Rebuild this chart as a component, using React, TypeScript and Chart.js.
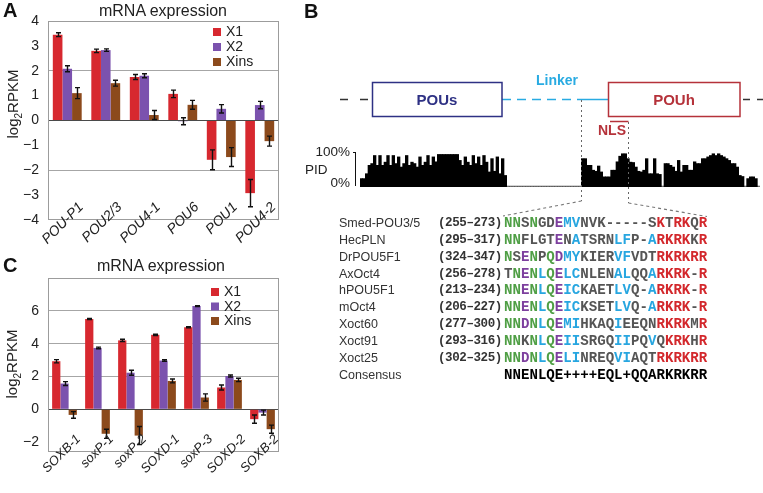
import React, { useEffect, useRef } from 'react';
import { Chart, registerables } from 'chart.js';

Chart.register(...registerables);

const SANS = '"Liberation Sans", Arial, Helvetica, sans-serif';
const MONO = '"Liberation Mono", "Courier New", monospace';

// ---------- Panel A / C shared series ----------
const seriesNames = ['X1', 'X2', 'Xins'];
const seriesColors = ['#d7282f', '#7b52ae', '#8c4a1c'];

// ---------- Panel A: POU genes ----------
const pouGenes = ['POU-P1', 'POU2/3', 'POU4-1', 'POU6', 'POU1', 'POU4-2'];
const pouX1 = [3.45, 2.8, 1.75, 1.07, -1.58, -2.92];
const pouX2 = [2.08, 2.83, 1.8, -0.03, 0.47, 0.62];
const pouXins = [1.1, 1.5, 0.22, 0.63, -1.47, -0.83];
const pouX1Err = [0.08, 0.07, 0.1, 0.15, 0.4, 0.55];
const pouX2Err = [0.12, 0.05, 0.08, 0.14, 0.17, 0.15];
const pouXinsErr = [0.22, 0.12, 0.18, 0.18, 0.38, 0.2];
const pouTicks = [-4, -3, -2, -1, 0, 1, 2, 3, 4];
const pouGrid = [-2, 2];

// ---------- Panel C: SOX genes ----------
const soxGenes = ['SOXB-1', 'soxP-1', 'soxP-2', 'SOXD-1', 'soxP-3', 'SOXD-2', 'SOXB-2'];
const soxX1 = [2.93, 5.5, 4.2, 4.54, 5.0, 1.33, -0.6];
const soxX2 = [1.57, 3.74, 2.23, 2.97, 6.29, 2.03, -0.2];
const soxXins = [-0.34, -1.49, -1.6, 1.73, 0.72, 1.79, -1.21];
const soxX1Err = [0.1, 0.03, 0.07, 0.04, 0.04, 0.15, 0.25];
const soxX2Err = [0.12, 0.05, 0.15, 0.05, 0.03, 0.06, 0.15];
const soxXinsErr = [0.2, 0.28, 0.55, 0.12, 0.22, 0.1, 0.25];
const soxTicks = [-2, 0, 2, 4, 6];
const soxGrid = [2, 4, 6];

// ---------- Panel B: PID profile (percent identity per alignment bin) ----------
const pidValues = [
  24, 24, 38, 62, 67, 90, 62, 90, 62, 71, 90, 62, 90, 67, 86, 57, 67, 90, 62, 71,
  67, 57, 86, 62, 71, 90, 62, 86, 72, 93, 93, 93, 93, 93, 93, 93, 93, 76, 62, 86,
  71, 62, 90, 67, 86, 62, 90, 71, 43, 81, 45, 86, 38, 81, 33, 0, 0, 0, 0, 0,
  0, 0, 0, 0, 0, 0, 0, 0, 0, 0, 0, 0, 0, 0, 0, 0, 0, 0, 0, 0,
  0, 0, 0, 81, 81, 62, 62, 48, 45, 60, 43, 29, 29, 29, 48, 48, 72, 88, 95, 95,
  81, 71, 70, 57, 45, 43, 48, 81, 38, 38, 81, 38, 36, 0, 67, 67, 62, 57, 45, 76,
  43, 62, 62, 48, 48, 72, 67, 67, 81, 81, 86, 90, 95, 90, 95, 90, 86, 81, 76, 67,
  67, 57, 33, 30, 0, 24, 29, 29, 24, 0,
];

// ---------- Panel B: alignment ----------
const seqNames = ['Smed-POU3/5', 'HecPLN', 'DrPOU5F1', 'AxOct4', 'hPOU5F1', 'mOct4', 'Xoct60', 'Xoct91', 'Xoct25', 'Consensus'];
const seqRanges = ['(255–273)', '(295–317)', '(324–347)', '(256–278)', '(213–234)', '(206–227)', '(277–300)', '(293–316)', '(302–325)', ''];
const seqResidues = [
  'NNSNGDEMVNVK-----SKTRKQR',
  'NNFLGTENATSRNLFP-ARKRKKR',
  'NSENPQDMYKIERVFVDTRKRKRR',
  'TNENLQELCNLENALQQARKRK-R',
  'NNENLQEICKAETLVQ-ARKRK-R',
  'NNENLQEICKSETLVQ-ARKRK-R',
  'NNDNLQEMIHKAQIEEQNRKRKMR',
  'NNKNLQEIISRGQIIPQVQKRKHR',
  'NNDNLQELINREQVIAQTRKRKRR',
  'NNENLQE++++EQL+QQARKRKRR',
];
const seqColorCodes = [
  'ggkgkkpbbkkkkkkkkkrkrrkr',
  'ggkkkkpkbkkkkbbkkbrrrrkr',
  'gkpgkgpbbkkkkbbkkkrrrrrr',
  'kgpgbgpbbkkkkbbkkbrrrrkr',
  'ggpgbgpbbkkkkbbkkbrrrrkr',
  'ggpgbgpbbkkkkbbkkbrrrrkr',
  'ggpgbgpbbkkkkbkkkkrrrrkr',
  'ggkgbgpbbkkkkbbkkbkrrrkr',
  'ggpgbgpbbkkkkbbkkkrrrrrr',
  'xxxxxxxxxxxxxxxxxxxxxxxx',
];
const residueColors: Record<string, string> = {
  g: '#4f9f45',
  p: '#7d3f9e',
  b: '#27a6e0',
  r: '#d3282c',
  k: '#555555',
  x: '#000000',
};

// ---------- plugins ----------
const framePlugin = {
  id: 'frame',
  afterDatasetsDraw(chart: any) {
    const { ctx, chartArea: a } = chart;
    ctx.save();
    ctx.strokeStyle = '#9c9c9c';
    ctx.lineWidth = 1;
    ctx.strokeRect(Math.round(a.left) + 0.5, Math.round(a.top) + 0.5, Math.round(a.right - a.left) - 1, Math.round(a.bottom - a.top) - 1);
    ctx.restore();
  },
};

const errorBarPlugin = {
  id: 'errorBars',
  afterDatasetsDraw(chart: any) {
    const { ctx } = chart;
    const yScale = chart.scales.y;
    chart.data.datasets.forEach((ds: any, di: number) => {
      if (!ds.errors) return;
      const meta = chart.getDatasetMeta(di);
      meta.data.forEach((bar: any, i: number) => {
        const v = ds.data[i];
        const e = ds.errors[i];
        const x = Math.round(bar.x) + 0.5;
        const y1 = yScale.getPixelForValue(v + e);
        const y2 = yScale.getPixelForValue(v - e);
        ctx.save();
        ctx.strokeStyle = '#111';
        ctx.lineWidth = 1.4;
        ctx.beginPath();
        ctx.moveTo(x, y1);
        ctx.lineTo(x, y2);
        ctx.moveTo(x - 2.5, y1);
        ctx.lineTo(x + 2.5, y1);
        ctx.moveTo(x - 2.5, y2);
        ctx.lineTo(x + 2.5, y2);
        ctx.stroke();
        ctx.restore();
      });
    });
  },
};

const insideLegendPlugin = {
  id: 'insideLegend',
  afterDraw(chart: any, _args: any, opts: any) {
    if (!opts || !opts.show) return;
    const { ctx, chartArea: a } = chart;
    ctx.save();
    ctx.font = `${opts.fontSize}px ${SANS}`;
    ctx.textBaseline = 'middle';
    ctx.textAlign = 'left';
    chart.data.datasets.forEach((ds: any, i: number) => {
      const y = a.top + opts.top + i * opts.gap;
      const x = a.right - opts.right;
      ctx.fillStyle = ds.backgroundColor;
      ctx.fillRect(x, y - opts.box / 2, opts.box, opts.box);
      ctx.fillStyle = '#222';
      ctx.fillText(ds.label, x + opts.box + opts.textGap, y + 0.5);
    });
    ctx.restore();
  },
};

// Category labels, slanted 45°, placed from the category scale's tick positions.
const slantLabelPlugin = {
  id: 'slantLabels',
  afterDraw(chart: any, _args: any, opts: any) {
    if (!opts || !opts.show) return;
    const { ctx, chartArea: a } = chart;
    const xs = chart.scales.x;
    ctx.save();
    ctx.font = `italic ${opts.size}px ${SANS}`;
    ctx.fillStyle = '#222';
    ctx.textAlign = 'right';
    ctx.textBaseline = 'middle';
    (chart.data.labels as string[]).forEach((lab, i) => {
      const x = xs.getPixelForValue(i) + opts.dx;
      const y = a.bottom + opts.dy;
      ctx.save();
      ctx.translate(x, y);
      ctx.rotate(-Math.PI / 4);
      ctx.fillText(lab, 0, 0);
      ctx.restore();
    });
    ctx.restore();
  },
};

const baselinePlugin = {
  id: 'baseline',
  beforeDatasetsDraw(chart: any) {
    const { ctx, chartArea: a } = chart;
    ctx.save();
    ctx.strokeStyle = '#a8a8a8';
    ctx.lineWidth = 1.5;
    ctx.beginPath();
    ctx.moveTo(a.left, a.bottom - 0.75);
    ctx.lineTo(a.right, a.bottom - 0.75);
    ctx.stroke();
    ctx.restore();
  },
};

type ExprParams = {
  labels: string[];
  values: number[][];
  errors: number[][];
  min: number;
  max: number;
  ticks: number[];
  grid: number[];
  labelSize: number;
  padTop: number;
  padRight: number;
  xHeight: number;
  legend: any;
};

function expressionConfig(p: ExprParams): any {
  return {
    type: 'bar',
    data: {
      labels: p.labels,
      datasets: seriesNames.map((name, i) => ({
        label: name,
        data: p.values[i],
        errors: p.errors[i],
        backgroundColor: seriesColors[i],
        borderWidth: 0,
        barPercentage: 1,
        categoryPercentage: 0.75,
      })),
    },
    options: {
      responsive: false,
      animation: false,
      devicePixelRatio: 1,
      layout: { padding: { top: p.padTop, right: p.padRight, left: 0, bottom: 0 } },
      plugins: {
        legend: { display: false },
        tooltip: { enabled: false },
        insideLegend: p.legend,
        slantLabels: { show: true, size: p.labelSize, dx: 14, dy: -15 },
      },
      scales: {
        x: {
          grid: { display: false },
          border: { display: false },
          ticks: { display: false },
          afterFit: (s: any) => {
            s.height = p.xHeight;
          },
        },
        y: {
          min: p.min,
          max: p.max,
          afterFit: (s: any) => {
            s.width = 48;
          },
          afterBuildTicks: (s: any) => {
            s.ticks = p.ticks.map((v) => ({ value: v }));
          },
          grid: {
            drawTicks: false,
            lineWidth: 1,
            color: (c: any) =>
              c.tick && c.tick.value === 0 ? '#4a4a4a' : c.tick && p.grid.includes(c.tick.value) ? '#a6a6a6' : 'rgba(0,0,0,0)',
          },
          border: { display: false },
          ticks: {
            padding: 9,
            color: '#222',
            font: { family: SANS, size: 14 },
            callback: (v: any) => String(v).replace('-', '−'),
          },
        },
      },
    },
    plugins: [framePlugin, errorBarPlugin, insideLegendPlugin, slantLabelPlugin],
  };
}

function pidConfig(): any {
  return {
    type: 'bar',
    data: {
      labels: pidValues.map((_, i) => String(i + 1)),
      datasets: [
        {
          data: pidValues,
          backgroundColor: '#000',
          borderWidth: 0,
          barPercentage: 1,
          categoryPercentage: 1,
        },
      ],
    },
    options: {
      responsive: false,
      animation: false,
      devicePixelRatio: 1,
      layout: { padding: { left: 5, right: 3, top: 7, bottom: 3 } },
      plugins: { legend: { display: false }, tooltip: { enabled: false } },
      scales: {
        x: { display: false },
        y: { display: false, min: 0, max: 100 },
      },
    },
    plugins: [baselinePlugin],
  };
}

function ChartCanvas(props: { left: number; top: number; width: number; height: number; make: () => any }) {
  const ref = useRef<HTMLCanvasElement>(null);
  useEffect(() => {
    const chart = new Chart(ref.current as HTMLCanvasElement, props.make());
    return () => chart.destroy();
  }, []);
  return (
    <canvas
      ref={ref}
      width={props.width}
      height={props.height}
      style={{ position: 'absolute', left: props.left, top: props.top, width: props.width, height: props.height }}
    />
  );
}

function Abs(props: { x: number; y: number; style?: React.CSSProperties; children: React.ReactNode }) {
  return (
    <div style={{ position: 'absolute', left: props.x, top: props.y, whiteSpace: 'nowrap', ...props.style }}>{props.children}</div>
  );
}

function YTitle(props: { cx: number; cy: number }) {
  return (
    <div
      style={{
        position: 'absolute',
        left: props.cx - 60,
        top: props.cy - 10,
        width: 120,
        height: 20,
        lineHeight: '20px',
        textAlign: 'center',
        transform: 'rotate(-90deg)',
        fontSize: 15,
        color: '#222',
        whiteSpace: 'nowrap',
      }}
    >
      log<span style={{ fontSize: 10, position: 'relative', top: 4 }}>2</span>RPKM
    </div>
  );
}

export default function App() {
  const rowTop = 215;
  const rowH = 16.85;
  return (
    <div
      style={{
        position: 'absolute',
        left: 0,
        top: 0,
        width: 763,
        height: 493,
        background: '#fff',
        overflow: 'hidden',
        fontFamily: SANS,
      }}
    >
      {/* Panel A */}
      <ChartCanvas
        left={0}
        top={0}
        width={290}
        height={262}
        make={() =>
          expressionConfig({
            labels: pouGenes,
            values: [pouX1, pouX2, pouXins],
            errors: [pouX1Err, pouX2Err, pouXinsErr],
            min: -4,
            max: 4,
            ticks: pouTicks,
            grid: pouGrid,
            labelSize: 14,
            padTop: 21,
            padRight: 11,
            xHeight: 42,
            legend: { show: true, right: 66, top: 11, gap: 15, box: 8, textGap: 5, fontSize: 14 },
          })
        }
      />
      {/* Panel C */}
      <ChartCanvas
        left={0}
        top={250}
        width={290}
        height={243}
        make={() =>
          expressionConfig({
            labels: soxGenes,
            values: [soxX1, soxX2, soxXins],
            errors: [soxX1Err, soxX2Err, soxXinsErr],
            min: -2.6,
            max: 8,
            ticks: soxTicks,
            grid: soxGrid,
            labelSize: 13,
            padTop: 28,
            padRight: 11,
            xHeight: 41,
            legend: { show: true, right: 68, top: 14, gap: 14.5, box: 8, textGap: 5, fontSize: 14 },
          })
        }
      />
      {/* PID profile */}
      <ChartCanvas left={355} top={145} width={408} height={45} make={pidConfig} />

      {/* Panel letters and titles */}
      <Abs x={3} y={-1} style={{ fontSize: 20, fontWeight: 'bold', color: '#111' }}>A</Abs>
      <Abs x={304} y={0} style={{ fontSize: 20, fontWeight: 'bold', color: '#111' }}>B</Abs>
      <Abs x={3} y={254} style={{ fontSize: 20, fontWeight: 'bold', color: '#111' }}>C</Abs>
      <Abs x={88} y={2} style={{ fontSize: 16, color: '#222', width: 150, textAlign: 'center' }}>mRNA expression</Abs>
      <Abs x={86} y={257} style={{ fontSize: 16, color: '#222', width: 150, textAlign: 'center' }}>mRNA expression</Abs>
      <YTitle cx={13} cy={104} />
      <YTitle cx={12} cy={364} />

      {/* Panel B diagram */}
      <svg width={763} height={493} style={{ position: 'absolute', left: 0, top: 0, fontFamily: SANS }}>
        <line x1={340} y1={99.5} x2={372} y2={99.5} stroke="#333" strokeWidth={1.3} strokeDasharray="8 12" />
        <line x1={743} y1={99.5} x2={763} y2={99.5} stroke="#333" strokeWidth={1.3} strokeDasharray="7 7" />
        <line x1={502} y1={99.5} x2={578} y2={99.5} stroke="#29abe2" strokeWidth={1.5} strokeDasharray="9 6" />
        <line x1={578} y1={99.5} x2={609} y2={99.5} stroke="#29abe2" strokeWidth={1.5} />
        <rect x={372.5} y={82.5} width={129.5} height={34} fill="#fff" stroke="#2e3184" strokeWidth={1.5} />
        <text x={437} y={105} textAnchor="middle" fontWeight="bold" fontSize={15} fill="#2e3184">POUs</text>
        <rect x={608.5} y={82.5} width={131.5} height={34} fill="#fff" stroke="#b5323a" strokeWidth={1.5} />
        <text x={674} y={105} textAnchor="middle" fontWeight="bold" fontSize={15} fill="#b5323a">POUh</text>
        <text x={557} y={85} textAnchor="middle" fontWeight="bold" fontSize={14} fill="#29abe2">Linker</text>
        <line x1={610} y1={121.5} x2={628.5} y2={121.5} stroke="#b5323a" strokeWidth={1.5} />
        <text x={612} y={135} textAnchor="middle" fontWeight="bold" fontSize={14} fill="#b5323a">NLS</text>

        {/* PID axis */}
        <line x1={355.5} y1={152} x2={355.5} y2={186} stroke="#111" strokeWidth={1} />
        <line x1={353} y1={152.5} x2={356} y2={152.5} stroke="#111" strokeWidth={1} />
        <text x={350} y={156} textAnchor="end" fontSize={13.5} fill="#222">100%</text>
        <text x={305} y={174} fontSize={13.5} fill="#222">PID</text>
        <text x={350} y={187} textAnchor="end" fontSize={13.5} fill="#222">0%</text>

        {/* zoom lines */}
        <line x1={581.5} y1={100} x2={581.5} y2={201} stroke="#666" strokeWidth={1} strokeDasharray="2 3" />
        <line x1={628.5} y1={122} x2={628.5} y2={203} stroke="#666" strokeWidth={1} strokeDasharray="2 3" />
        <line x1={581.5} y1={201} x2={503} y2={216} stroke="#777" strokeWidth={1.1} strokeDasharray="3 3" />
        <line x1={628.5} y1={203} x2={707} y2={216.5} stroke="#777" strokeWidth={1.1} strokeDasharray="3 3" />
      </svg>

      {/* Alignment */}
      {seqNames.map((name, i) => (
        <div
          key={name}
          style={{ position: 'absolute', left: 0, top: rowTop + i * rowH, width: 763, height: 17, lineHeight: '17px' }}
        >
          <span style={{ position: 'absolute', left: 339, fontSize: 12.5, color: '#333' }}>{name}</span>
          <span
            style={{
              position: 'absolute',
              left: 438,
              fontFamily: MONO,
              fontWeight: 'bold',
              fontSize: 12.5,
              letterSpacing: '-0.4px',
              color: '#333',
            }}
          >
            {seqRanges[i]}
          </span>
          <span style={{ position: 'absolute', left: 504, fontFamily: MONO, fontWeight: 'bold', fontSize: 14.1 }}>
            {seqResidues[i].split('').map((ch, j) => (
              <span key={j} style={{ color: residueColors[seqColorCodes[i][j]] }}>
                {ch}
              </span>
            ))}
          </span>
        </div>
      ))}
    </div>
  );
}
